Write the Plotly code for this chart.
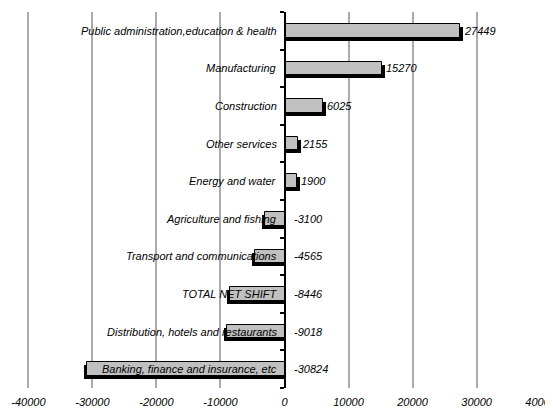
import plotly.graph_objects as go

categories = [
    "Public administration,education & health",
    "Manufacturing",
    "Construction",
    "Other services",
    "Energy and water",
    "Agriculture and fishing",
    "Transport and communications",
    "TOTAL NET SHIFT",
    "Distribution, hotels and restaurants",
    "Banking, finance and insurance, etc",
]
values = [27449, 15270, 6025, 2155, 1900, -3100, -4565, -8446, -9018, -30824]
x_ticks = [-40000, -30000, -20000, -10000, 0, 10000, 20000, 30000, 40000]
grid_vals = [-40000, -30000, -20000, -10000, 10000, 20000, 30000]

pos = list(range(len(categories)))
FONT = "Liberation Sans, Arial, sans-serif"
SHADOW_DX = 480   # shadow extension away from zero (style)
BAR_W = 0.36
SHADOW_DY = 0.08

shadow_x = [v + (SHADOW_DX if v > 0 else -SHADOW_DX) for v in values]

fig = go.Figure()
# shadow bars
fig.add_trace(go.Bar(
    y=pos, x=shadow_x, orientation="h",
    width=BAR_W, offset=-BAR_W / 2 + SHADOW_DY,
    marker=dict(color="black", line=dict(width=0)),
    hoverinfo="skip", showlegend=False,
))
# main bars
fig.add_trace(go.Bar(
    y=pos, x=values, orientation="h", width=BAR_W, offset=-BAR_W / 2,
    marker=dict(color="#C0C0C0", line=dict(color="black", width=1)),
    showlegend=False,
))
# grid-only axis trace holder
fig.add_trace(go.Scatter(x=[None], y=[None], xaxis="x2", showlegend=False))

annotations = []
for p, c, v in zip(pos, categories, values):
    annotations.append(dict(
        x=0, y=p, xref="x", yref="y", text=c, showarrow=False,
        xanchor="right", yanchor="middle", xshift=-6,
        font=dict(family=FONT, size=11, color="black", style="italic"),
    ))
    annotations.append(dict(
        x=max(v, 0), y=p, xref="x", yref="y", text=str(v), showarrow=False,
        xanchor="left", yanchor="middle", xshift=(2 if v > 0 else 7),
        font=dict(family=FONT, size=11, color="black", style="italic"),
    ))

# page body has an 8px default margin, so the figure is sized to fit
fig.update_layout(
    width=545, height=403,
    margin=dict(l=14, r=6, t=4, b=23, autoexpand=False),
    paper_bgcolor="white", plot_bgcolor="white",
    barmode="overlay", bargap=0,
    annotations=annotations,
    xaxis=dict(
        range=[-41000, 41000], tickvals=x_ticks, ticktext=[str(t) for t in x_ticks],
        showgrid=False, zeroline=False, showline=False, ticks="", automargin=False,
        ticklabelstandoff=6, ticklabeloverflow="allow",
        tickfont=dict(family=FONT, size=11, color="black", style="italic"),
    ),
    xaxis2=dict(
        range=[-41000, 41000], overlaying="x", tickvals=grid_vals, automargin=False,
        showgrid=True, gridcolor="#ABABAB", gridwidth=1.5,
        showticklabels=False, zeroline=False, showline=False, ticks="",
    ),
    yaxis=dict(
        range=[9.5, -0.5], anchor="free", position=0.5, side="left", automargin=False,
        showline=True, linecolor="black", linewidth=1.5,
        ticks="outside", ticklen=4, tickwidth=1.5, tickcolor="black",
        tickvals=[p - 0.5 for p in pos] + [len(pos) - 0.5],
        showticklabels=False, showgrid=False, zeroline=False,
    ),
)

fig.write_html("out.html")
